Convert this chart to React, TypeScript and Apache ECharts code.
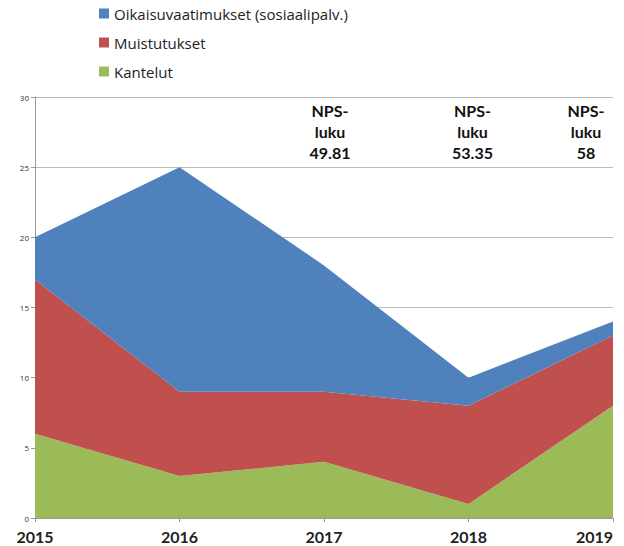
import React, { useEffect, useRef } from "react";
import * as echarts from "echarts";

const years = ["2015", "2016", "2017", "2018", "2019"];
const kantelut = [6, 3, 4, 1, 8];
const muistutukset = [11, 6, 5, 7, 5];
const oikaisuvaatimukset = [3, 16, 9, 2, 1];
const npsLabels = [
  { year: "2017", text: "NPS-\nluku\n49.81" },
  { year: "2018", text: "NPS-\nluku\n53.35" },
  { year: "2019", text: "NPS-\nluku\n58" },
];

export default function App() {
  const ref = useRef<HTMLDivElement>(null);
  useEffect(() => {
    const chart = echarts.init(ref.current!, null, { renderer: "svg" });
    const mk = (name: string, data: number[], color: string) => ({
      name,
      type: "line",
      stack: "s",
      data,
      symbol: "none",
      lineStyle: { width: 0 },
      areaStyle: { color, opacity: 1 },
      itemStyle: { color },
    });
    chart.setOption({
      animation: false,
      backgroundColor: "#fff",
      legend: {
        orient: "vertical",
        left: 94,
        top: 1,
        itemGap: 14,
        itemWidth: 10,
        itemHeight: 10,
        icon: "rect",
        textStyle: { fontFamily: "Open Sans", fontSize: 15, color: "#222" },
        data: ["Oikaisuvaatimukset (sosiaalipalv.)", "Muistutukset", "Kantelut"],
      },
      grid: { left: 35, right: 11, top: 97, bottom: 28 },
      xAxis: {
        type: "category",
        data: years,
        boundaryGap: false,
        axisLine: { lineStyle: { color: "#999" } },
        axisTick: { show: true, length: 4, lineStyle: { color: "#999" } },
        axisLabel: {
          fontFamily: "Lato",
          fontWeight: "bold",
          fontSize: 16,
          color: "#222",
          margin: 10,
          alignMaxLabel: "right",
        },
      },
      yAxis: {
        type: "value",
        min: 0,
        max: 30,
        interval: 5,
        axisLine: { show: true, lineStyle: { color: "#999" } },
        axisTick: { show: true, length: 4, lineStyle: { color: "#999" } },
        axisLabel: { fontFamily: "Open Sans", fontSize: 8, color: "#333", margin: 6 },
        splitLine: { lineStyle: { color: "#bbb", width: 1 } },
      },
      series: [
        mk("Kantelut", kantelut, "#9BBB59"),
        mk("Muistutukset", muistutukset, "#C0504D"),
        mk("Oikaisuvaatimukset (sosiaalipalv.)", oikaisuvaatimukset, "#4F81BD"),
      ],
    });
    const xs = npsLabels.map((l) => chart.convertToPixel({ xAxisIndex: 0 }, l.year) as number);
    const offs = [6, 4, -27];
    chart.setOption({
      graphic: npsLabels.map((l, i) => ({
        type: "text",
        x: xs[i] + offs[i],
        y: 100,
        style: {
          text: l.text,
          fontFamily: "Lato",
          fontWeight: "bold",
          fontSize: 16,
          lineHeight: 21,
          fill: "#111",
          align: "center",
          verticalAlign: "top",
        },
      })),
    });
    return () => chart.dispose();
  }, []);
  return <div ref={ref} style={{ width: 624, height: 546, position: "absolute", left: 0, top: 0 }} />;
}
